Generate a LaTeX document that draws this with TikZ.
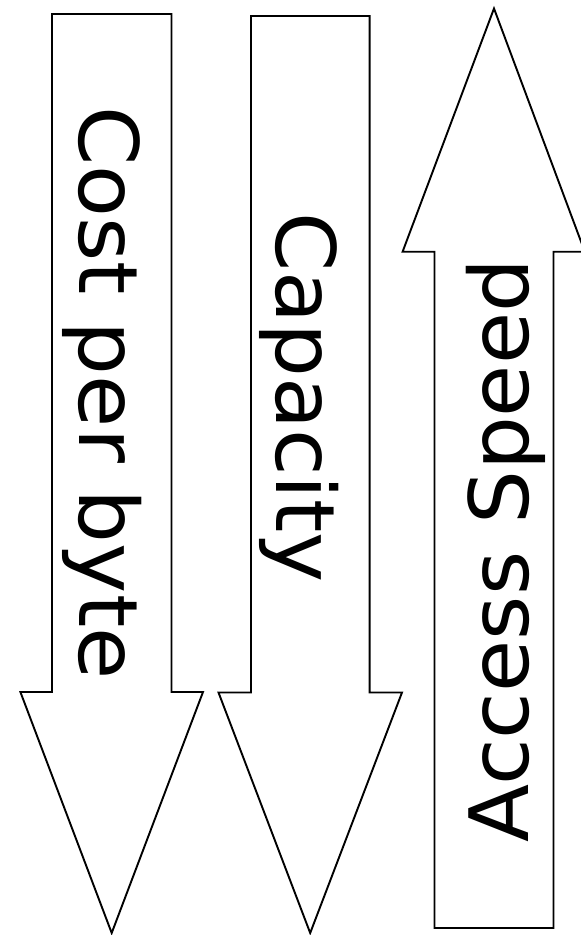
\documentclass[tikz,border=0pt]{standalone}
\usepackage{fontspec}
\setmainfont{DejaVu Sans}
\newcommand{\stretched}[1]{\scalebox{1.035}[1]{#1}}
\begin{document}
\begin{tikzpicture}[x=1pt,y=-1pt,
  bigarrow/.style={draw=black,line width=1.9pt,fill=white,line join=miter},
  label/.style={anchor=base,inner sep=0pt,font=\fontsize{82}{98}\selectfont}]
\useasboundingbox (0,0) rectangle (581,935);
\fill[white] (0,0) rectangle (581,935);
% downward arrow: cost per byte
\draw[bigarrow] (52,14) -- (171.5,14) -- (171.5,692) -- (203,692) -- (111.7,933)
  -- (20.4,692) -- (52,692) -- cycle;
% downward arrow: capacity
\draw[bigarrow] (251,16) -- (369.6,16) -- (369.6,692.5) -- (402,692.5) -- (310.2,933)
  -- (218.5,692.5) -- (251,692.5) -- cycle;
% upward arrow: access speed
\draw[bigarrow] (434.5,928) -- (553.5,928) -- (553.5,251.7) -- (584.8,251.7) -- (494,8.5)
  -- (402.6,251.7) -- (434.5,251.7) -- cycle;
\node[label,rotate=-90] (cost) at (79,393) {\stretched{Cost per byte}};
\node[label,rotate=-90] (cap) at (276,397.5) {\stretched{Capacity}};
\node[label,rotate=90] (speed) at (528,550.5) {\stretched{Access Speed}};
\end{tikzpicture}
\end{document}
